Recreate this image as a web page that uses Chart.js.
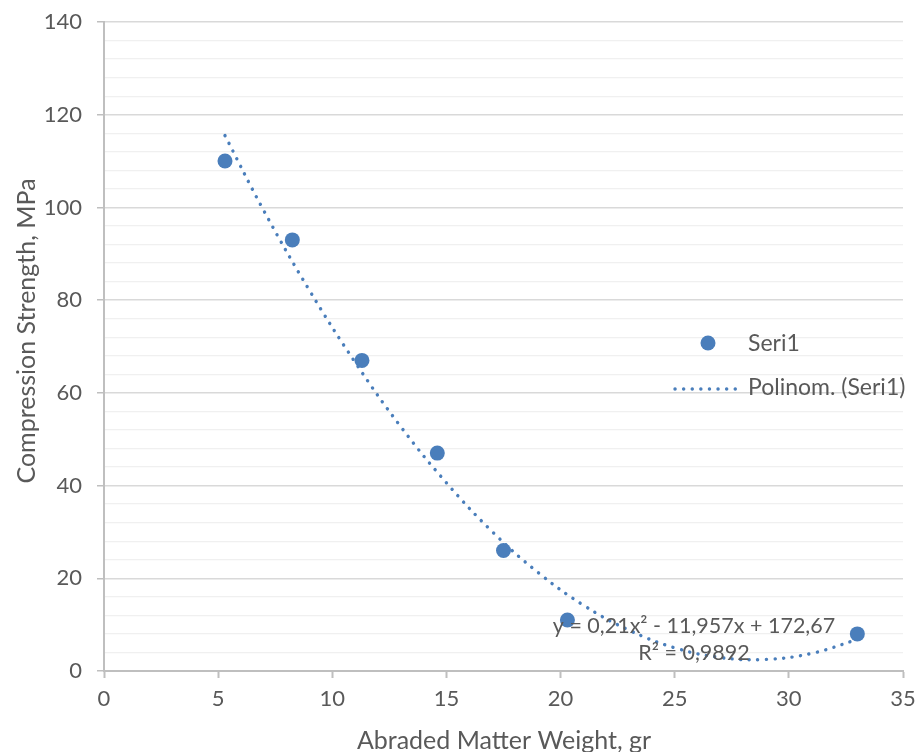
<!DOCTYPE html>
<html>
<head>
<meta charset="utf-8">
<script src="https://cdn.jsdelivr.net/npm/chart.js@4.4.1/dist/chart.umd.min.js"></script>
<style>
  body { margin: 0; background: #fff; }
  canvas { display: block; }
</style>
</head>
<body>
<canvas id="strengthChart" width="919" height="752"></canvas>
<script>
// Measured points (Seri1)
const weightX = [5.3, 8.25, 11.3, 14.6, 17.5, 20.3, 33];
const strengthY = [110, 93, 67, 47, 26, 11, 8];

// Trendline as it appears on the picture
const trendX = [5.3, 7, 9, 11, 13, 15, 17, 19, 21, 23, 25, 27, 29, 31, 33];
const trendY = [115.5, 99.3, 82.1, 66.6, 52.7, 40.6, 30.1, 21.3, 14.2, 8.8, 5.0, 2.9, 2.5, 3.8, 6.8];

const xTicks = [0, 5, 10, 15, 20, 25, 30, 35];
const yTicks = [0, 20, 40, 60, 80, 100, 120, 140];

const seriesLabel = "Seri1";
const trendLabel = "Polinom. (Seri1)";
const equationLines = ["y = 0,21x² - 11,957x + 172,67", "R² = 0,9892"];
const xTitle = "Abraded Matter Weight, gr";
const yTitle = "Compression Strength, MPa";

const BLUE = "#4a7ebb";
const TEXT = "#595959";
const FONT = "Lato, 'Open Sans', sans-serif";

// Legend, equation and axis titles drawn on top
const overlay = {
    id: "overlay",
    afterDraw(chart) {
        const ctx = chart.ctx;
        ctx.save();
        ctx.fillStyle = TEXT;
        ctx.font = `23px ${FONT}`;
        ctx.textBaseline = "middle";
        ctx.textAlign = "left";

        // legend
        ctx.fillStyle = BLUE;
        ctx.beginPath();
        ctx.arc(708, 343, 7.5, 0, Math.PI * 2);
        ctx.fill();
        ctx.strokeStyle = BLUE;
        ctx.lineWidth = 3.4;
        ctx.lineCap = "round";
        ctx.setLineDash([0.1, 8.5]);
        ctx.beginPath();
        ctx.moveTo(675, 389);
        ctx.lineTo(737, 389);
        ctx.stroke();
        ctx.setLineDash([]);
        ctx.fillStyle = TEXT;
        ctx.fillText(seriesLabel, 748, 344);
        ctx.fillText(trendLabel, 748, 388);

        // trendline equation
        ctx.font = `21.5px ${FONT}`;
        ctx.textAlign = "center";
        ctx.textBaseline = "alphabetic";
        ctx.fillText(equationLines[0], 694, 633);
        ctx.fillText(equationLines[1], 694, 660);

        // axis titles
        ctx.font = `25px ${FONT}`;
        ctx.fillText(xTitle, 504, 749);
        ctx.translate(35, 331);
        ctx.rotate(-Math.PI / 2);
        ctx.fillText(yTitle, 0, 0);
        ctx.restore();
    }
};

const ctx = document.getElementById("strengthChart").getContext("2d");
new Chart(ctx, {
    type: "scatter",
    data: {
        datasets: [
            {
                label: trendLabel,
                data: trendX.map((x, i) => ({ x: x, y: trendY[i] })),
                showLine: true,
                borderColor: BLUE,
                borderWidth: 3.4,
                borderDash: [0.1, 8.5],
                borderCapStyle: "round",
                tension: 0.4,
                pointRadius: 0,
                fill: false
            },
            {
                label: seriesLabel,
                data: weightX.map((x, i) => ({ x: x, y: strengthY[i] })),
                backgroundColor: BLUE,
                borderColor: BLUE,
                borderWidth: 0,
                pointRadius: 7.5,
                pointHoverRadius: 7.5
            }
        ]
    },
    options: {
        responsive: false,
        devicePixelRatio: 1,
        animation: false,
        layout: { padding: { top: 22, right: 16, left: 0, bottom: 0 } },
        plugins: {
            legend: { display: false },
            tooltip: { enabled: false }
        },
        scales: {
            x: {
                type: "linear",
                min: 0,
                max: 35,
                afterBuildTicks: scale => { scale.ticks = xTicks.map(v => ({ value: v })); },
                afterFit: scale => {
                    scale.height = 81;
                    scale.paddingLeft = 0;
                    scale.paddingRight = 0;
                },
                ticks: { color: TEXT, font: { family: FONT, size: 22 }, padding: 8, maxRotation: 0 },
                grid: { drawOnChartArea: false, tickLength: 7, tickColor: "#bfbfbf", tickWidth: 2 },
                border: { color: "#bfbfbf", width: 2 }
            },
            y: {
                min: 0,
                max: 140,
                afterBuildTicks: scale => {
                    const all = [];
                    for (let v = 0; v <= 140; v += 4) all.push({ value: v });
                    scale.ticks = all;
                },
                afterFit: scale => {
                    scale.width = 104;
                    scale.paddingTop = 0;
                    scale.paddingBottom = 0;
                },
                ticks: {
                    color: TEXT,
                    font: { family: FONT, size: 22 },
                    padding: 15,
                    autoSkip: false,
                    callback: v => yTicks.includes(v) ? v : ""
                },
                grid: {
                    color: c => (c.tick && c.tick.value % 20 === 0) ? "#d9d9d9" : "#f0f0f0",
                    lineWidth: c => (c.tick && c.tick.value % 20 === 0) ? 1.5 : 1.3,
                    tickLength: 7,
                    tickColor: c => (c.tick && c.tick.value % 20 === 0) ? "#bfbfbf" : "rgba(0,0,0,0)"
                },
                border: { color: "#bfbfbf", width: 2 }
            }
        }
    },
    plugins: [overlay]
});
</script>
</body>
</html>
